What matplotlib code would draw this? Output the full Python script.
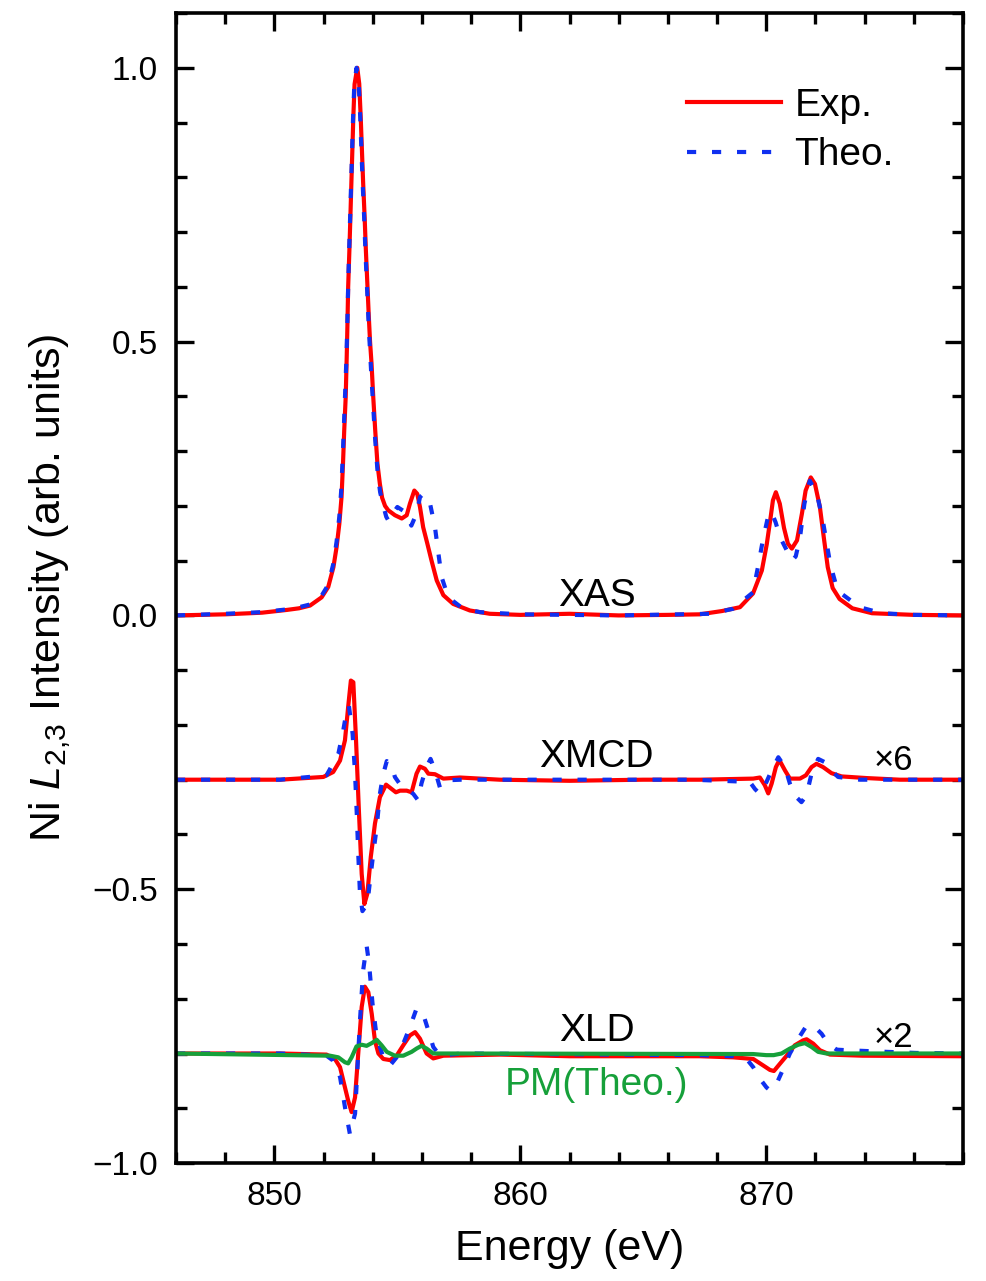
import matplotlib
matplotlib.use("Agg")
import matplotlib.pyplot as plt
from matplotlib.ticker import MultipleLocator
import numpy as np

plt.rcParams['font.family'] = ['Liberation Sans', 'DejaVu Sans']
plt.rcParams['mathtext.fontset'] = 'custom'
plt.rcParams['mathtext.rm'] = 'Liberation Sans'
plt.rcParams['mathtext.it'] = 'Liberation Sans:italic'

# ---- data (energy in eV) ----
# XAS, experiment
xas_exp_e = [846.0, 848.0, 849.5, 850.5, 851.0, 851.45, 851.92, 852.19, 852.4, 852.53,
             852.64, 852.73, 852.79, 852.84, 852.9, 852.94, 852.97, 853.0, 853.05, 853.09,
             853.13, 853.17, 853.21, 853.26, 853.37, 853.45, 853.51, 853.56, 853.61, 853.67,
             853.72, 853.78, 853.84, 853.89, 853.95, 854.02, 854.1, 854.19, 854.29, 854.38,
             854.5, 854.63, 854.9, 855.18, 855.38, 855.51, 855.69, 855.81, 855.92, 856.05,
             856.22, 856.39, 856.6, 856.87, 857.27, 857.95, 858.76, 860.0, 862.0, 864.0,
             866.0, 867.3, 868.2, 868.93, 869.46, 869.82, 870.02, 870.18, 870.27, 870.39,
             870.55, 870.72, 870.88, 871.04, 871.25, 871.45, 871.6, 871.81, 871.98, 872.18,
             872.34, 872.5, 872.7, 872.98, 873.5, 874.3, 876.0, 878.0]
xas_exp_i = [0.0, 0.002, 0.005, 0.01, 0.013, 0.018, 0.033, 0.052, 0.088, 0.125,
             0.167, 0.216, 0.277, 0.338, 0.399, 0.47, 0.53, 0.6, 0.667, 0.727,
             0.789, 0.849, 0.91, 0.97, 1.0, 0.971, 0.91, 0.849, 0.789, 0.727,
             0.667, 0.606, 0.545, 0.5, 0.46, 0.399, 0.338, 0.277, 0.24, 0.215,
             0.2, 0.192, 0.183, 0.177, 0.183, 0.204, 0.228, 0.222, 0.198, 0.161,
             0.131, 0.1, 0.064, 0.037, 0.021, 0.009, 0.003, 0.001, 0.003, 0.0,
             0.001, 0.002, 0.008, 0.015, 0.04, 0.082, 0.13, 0.18, 0.21, 0.225,
             0.204, 0.16, 0.131, 0.122, 0.137, 0.186, 0.228, 0.252, 0.24, 0.198,
             0.142, 0.088, 0.05, 0.03, 0.013, 0.004, 0.001, 0.0]

# XAS, theory
xas_th_e = [846.0, 848.0, 849.5, 850.5, 851.0, 851.45, 851.92, 852.19, 852.4, 852.53,
            852.64, 852.72, 852.78, 852.83, 852.88, 852.93, 852.97, 853.0, 853.04, 853.08,
            853.12, 853.16, 853.2, 853.25, 853.34, 853.43, 853.49, 853.54, 853.59, 853.65,
            853.7, 853.76, 853.82, 853.87, 853.94, 854.02, 854.1, 854.2, 854.3, 854.43,
            854.55, 854.65, 854.8, 855.0, 855.31, 855.57, 855.78, 855.92, 856.05, 856.33,
            856.53, 856.67, 856.8, 857.07, 857.68, 858.36, 860.0, 864.0, 867.7, 868.64,
            869.46, 869.66, 869.86, 870.07, 870.2, 870.38, 870.56, 870.83, 871.05, 871.2,
            871.37, 871.55, 871.77, 872.06, 872.3, 872.6, 872.9, 873.8, 874.7, 876.0, 878.0]
xas_th_i = [0.0, 0.003, 0.006, 0.011, 0.015, 0.02, 0.036, 0.056, 0.095, 0.135,
            0.18, 0.23, 0.29, 0.35, 0.41, 0.47, 0.54, 0.6, 0.667, 0.727,
            0.789, 0.849, 0.91, 0.97, 1.0, 0.971, 0.91, 0.849, 0.789, 0.727,
            0.667, 0.606, 0.545, 0.5, 0.44, 0.38, 0.32, 0.26, 0.225, 0.2,
            0.18, 0.172, 0.185, 0.198, 0.189, 0.164, 0.186, 0.216, 0.222, 0.204,
            0.161, 0.113, 0.07, 0.033, 0.012, 0.006, 0.002, 0.0, 0.003, 0.012,
            0.042, 0.088, 0.137, 0.18, 0.19, 0.17, 0.143, 0.119, 0.1, 0.108,
            0.142, 0.204, 0.246, 0.222, 0.173, 0.094, 0.045, 0.015, 0.004, 0.001, 0.0]

# XMCD (x6), change from its own baseline
xmcd_exp_e = [846.0, 850.23, 851.99, 852.39, 852.67, 852.87, 853.0, 853.11, 853.21, 853.32,
              853.43, 853.55, 853.66, 853.78, 853.92, 854.09, 854.29, 854.54, 854.74, 854.94,
              855.11, 855.38, 855.58, 855.78, 855.92, 856.12, 856.26, 856.53, 856.87, 857.54,
              859.17, 862.0, 865.0, 867.3, 869.47, 869.74, 869.94, 870.08, 870.22, 870.39,
              870.53, 870.76, 870.96, 871.37, 871.61, 871.84, 872.04, 872.31, 872.65, 873.06,
              874.07, 875.43, 878.0]
xmcd_exp_i = [0.0, 0.0, 0.005, 0.014, 0.035, 0.072, 0.133, 0.181, 0.178, 0.072,
              -0.05, -0.172, -0.227, -0.208, -0.141, -0.08, -0.032, -0.009, -0.016, -0.023,
              -0.02, -0.02, -0.023, 0.011, 0.024, 0.02, 0.011, 0.01, 0.002, 0.004,
              0.0, -0.002, 0.0, 0.0, 0.002, 0.004, -0.01, -0.025, -0.007, 0.023,
              0.036, 0.017, 0.002, 0.002, 0.008, 0.023, 0.029, 0.023, 0.012, 0.006,
              0.003, 0.0, 0.0]

xmcd_th_e = [846.0, 850.23, 852.12, 852.6, 852.8, 852.94, 853.03, 853.18, 853.28, 853.35,
             853.41, 853.48, 853.58, 853.78, 853.89, 854.02, 854.16, 854.29, 854.43, 854.57,
             854.77, 854.9, 855.07, 855.31, 855.65, 855.85, 855.98, 856.18, 856.35, 856.53,
             856.73, 857.0, 857.6, 867.0, 869.33, 869.54, 869.74, 870.01, 870.22, 870.49,
             870.76, 870.96, 871.16, 871.43, 871.63, 871.84, 872.11, 872.38, 872.65, 872.92,
             873.8, 878.0]
xmcd_th_i = [0.0, 0.0, 0.008, 0.047, 0.09, 0.126, 0.135, 0.084, 0.011, -0.062,
             -0.135, -0.208, -0.24, -0.227, -0.184, -0.135, -0.087, -0.026, 0.011, 0.034,
             0.026, 0.005, -0.006, -0.014, -0.026, -0.038, -0.007, 0.023, 0.038, 0.017,
             -0.014, -0.001, 0.0, 0.0, -0.004, -0.017, -0.026, -0.004, 0.017, 0.041,
             0.023, -0.007, -0.029, -0.041, -0.029, 0.011, 0.038, 0.032, 0.017, 0.005,
             0.0, 0.0]

# XLD (x2), change from its own baseline
xld_exp_e = [846.0, 850.23, 852.12, 852.46, 852.67, 852.87, 853.0, 853.14, 853.28, 853.41,
             853.55, 853.68, 853.82, 853.96, 854.09, 854.23, 854.43, 854.7, 854.97, 855.24,
             855.51, 855.72, 855.92, 856.19, 856.46, 856.87, 859.2, 862.0, 865.0, 867.3,
             868.65, 869.47, 869.88, 870.15, 870.31, 870.55, 870.83, 871.16, 871.5, 871.64,
             871.91, 872.18, 872.59, 873.9, 878.0]
xld_exp_i = [0.0, 0.0, -0.002, -0.01, -0.025, -0.062, -0.086, -0.107, -0.08, 0.0,
             0.085, 0.122, 0.112, 0.072, 0.023, 0.0, -0.01, -0.012, -0.004, 0.015,
             0.033, 0.039, 0.027, 0.0, -0.009, -0.004, -0.002, -0.005, -0.005, -0.005,
             -0.007, -0.01, -0.022, -0.03, -0.032, -0.019, -0.004, 0.015, 0.024, 0.026,
             0.018, 0.006, -0.002, -0.004, -0.005]

xld_th_e = [846.0, 850.23, 852.12, 852.39, 852.67, 852.87, 853.07, 853.28, 853.48, 853.61,
            853.75, 853.85, 853.99, 854.16, 854.43, 854.7, 854.97, 855.24, 855.51, 855.78,
            856.05, 856.26, 856.46, 856.73, 857.6, 867.3, 868.65, 869.2, 869.47, 869.74,
            870.01, 870.17, 870.42, 870.69, 870.96, 871.3, 871.64, 871.98, 872.25, 872.52,
            872.86, 873.27, 873.8, 874.9, 876.1, 878.0]
xld_th_i = [0.0, 0.0, -0.004, -0.013, -0.043, -0.098, -0.147, -0.11, 0.06, 0.152,
            0.197, 0.164, 0.091, 0.03, -0.007, -0.022, -0.007, 0.018, 0.048, 0.082,
            0.072, 0.042, 0.012, -0.004, 0.0, -0.003, -0.005, -0.01, -0.025, -0.046,
            -0.062, -0.068, -0.055, -0.028, 0.0, 0.027, 0.051, 0.048, 0.036, 0.018,
            0.007, 0.006, 0.005, 0.003, 0.001, 0.0]

# XLD, paramagnetic theory
xld_pm_e = [846.0, 852.26, 852.6, 852.87, 853.0, 853.14, 853.34, 853.55, 853.75, 853.96,
            854.16, 854.36, 854.57, 854.9, 855.24, 855.58, 855.78, 855.98, 856.19, 856.46,
            857.0, 869.47, 870.0, 870.3, 870.62, 870.96, 871.3, 871.57, 871.84, 872.11,
            872.45, 878.0]
xld_pm_i = [0.0, -0.004, -0.007, -0.016, -0.018, -0.007, 0.013, 0.016, 0.014, 0.019,
            0.025, 0.015, 0.003, -0.004, -0.004, 0.003, 0.009, 0.014, 0.009, 0.0,
            0.0, -0.001, -0.003, -0.003, 0.0, 0.009, 0.016, 0.019, 0.012, 0.003,
            0.0, 0.0]

xmcd_base = -0.3
xld_base = -0.8

red = '#ff0000'
blue = '#1030f0'
green = '#16a03a'
lw = 3.0
dash = (0, (2.2, 3.8))

fig = plt.figure(figsize=(9.86, 12.81), dpi=100)
ax = fig.add_axes([0.1785, 0.0921, 0.7982, 0.8977])

# experiment first, theory dashed on top
ax.plot(xas_exp_e, xas_exp_i, color=red, lw=lw, label='Exp.')
ax.plot(xas_th_e, xas_th_i, color=blue, lw=lw, ls=dash, label='Theo.')
ax.plot(xmcd_exp_e, np.array(xmcd_exp_i) + xmcd_base, color=red, lw=lw)
ax.plot(xmcd_th_e, np.array(xmcd_th_i) + xmcd_base, color=blue, lw=lw, ls=dash)
ax.plot(xld_exp_e, np.array(xld_exp_i) + xld_base, color=red, lw=lw)
ax.plot(xld_th_e, np.array(xld_th_i) + xld_base, color=blue, lw=lw, ls=dash)
ax.plot(xld_pm_e, np.array(xld_pm_i) + xld_base, color=green, lw=lw)

ax.text(863.1, 0.035, 'XAS', fontsize=28, ha='center', va='center')
ax.text(863.1, -0.258, 'XMCD', fontsize=28, ha='center', va='center')
ax.text(875.15, -0.265, '×6', fontsize=25, ha='center', va='center')
ax.text(863.1, -0.758, 'XLD', fontsize=28, ha='center', va='center')
ax.text(875.15, -0.771, '×2', fontsize=25, ha='center', va='center')
ax.text(863.1, -0.858, 'PM(Theo.)', fontsize=28, ha='center', va='center', color=green)

ax.set_xlim(846, 878)
ax.set_ylim(-1.0, 1.1)
ax.xaxis.set_major_locator(MultipleLocator(10))
ax.xaxis.set_minor_locator(MultipleLocator(2))
ax.yaxis.set_major_locator(MultipleLocator(0.5))
ax.yaxis.set_minor_locator(MultipleLocator(0.1))
ax.tick_params(which='both', direction='in', top=True, right=True, width=2.4,
               labelsize=24, pad=13)
ax.tick_params(which='major', length=13)
ax.tick_params(which='minor', length=8)
for s in ax.spines.values():
    s.set_linewidth(2.6)

ax.set_xlabel('Energy (eV)', fontsize=31, labelpad=12)
ax.set_ylabel('Ni $\\mathit{L}_{2{,}3}$ Intensity (arb. units)', fontsize=31, labelpad=14)

ax.legend(loc='upper left', bbox_to_anchor=(0.625, 0.952), frameon=False, fontsize=28,
          handlelength=2.4, handletextpad=0.35, labelspacing=0.35, borderpad=0)

fig.savefig('out.png', dpi=100)
